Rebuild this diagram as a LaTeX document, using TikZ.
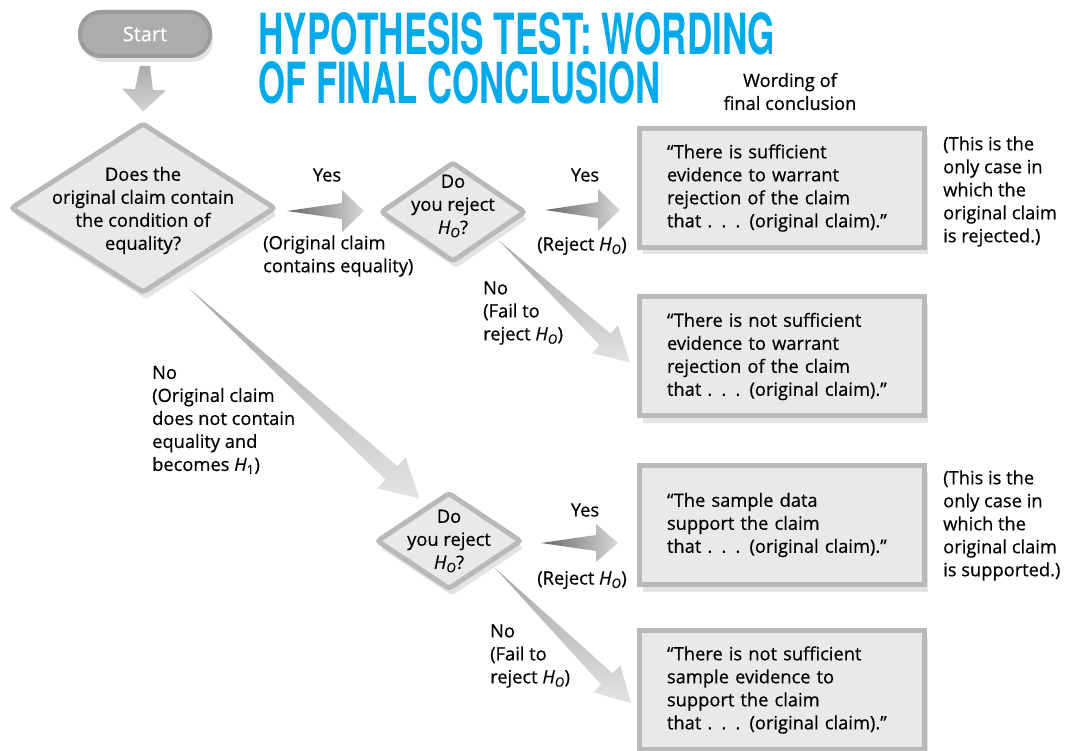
\documentclass[tikz,border=0pt]{standalone}
\usepackage{fontspec}
\usepackage{graphicx}
\setmainfont{Open Sans}[FakeBold=0.5,AutoFakeBold=0.5]
\newfontfamily\titlefont{TeX Gyre Heros}
\usetikzlibrary{shapes.geometric,shadows,calc}
\definecolor{titleblue}{RGB}{0,170,235}
\newcommand{\HO}{\textit{H}\textsubscript{\textit{O}}}
\newcommand{\HI}{\textit{H}\textsubscript{1}}
% #1 style, #2 from, #3 to, #4 tail half width, #5 shaft half width, #6 head half width, #7 head length
\newcommand{\myarrow}[7]{%
  \coordinate (bb) at ($(#3)!#7!(#2)$);
  \path[#1] ($(#2)!#4!90:(#3)$) -- ($(bb)!#5!90:(#3)$) -- ($(bb)!#6!90:(#3)$) -- (#3)
     -- ($(bb)!#6!-90:(#3)$) -- ($(bb)!#5!-90:(#3)$) -- ($(#2)!#4!-90:(#3)$) -- cycle;}
\begin{document}
\begin{tikzpicture}[x=1pt,y=-1pt,
  txt/.style={font=\fontsize{18.3}{23}\selectfont\bfseries, inner sep=0pt, align=left},
  ctxt/.style={txt, align=center},
  box/.style={rectangle, draw=gray!55, line width=5pt, fill=gray!17,
    minimum width=285pt, minimum height=119pt, text width=230pt, inner sep=0pt,
    font=\fontsize{18.3}{23}\selectfont\bfseries, align=left,
    drop shadow={shadow xshift=3pt, shadow yshift=-7pt, opacity=0.22, fill=gray}},
  diam/.style={diamond, draw=gray!55, line width=5pt, fill=gray!17, inner sep=0pt,
    rounded corners=3pt,
    drop shadow={shadow xshift=3pt, shadow yshift=-7pt, opacity=0.22, fill=gray}},
  startbox/.style={rectangle, rounded corners=21pt, draw=gray!78, line width=4pt,
    fill=gray!65, minimum width=130pt, minimum height=44pt, text=white,
    font=\fontsize{20}{23}\selectfont,
    drop shadow={shadow xshift=3pt, shadow yshift=-6pt, opacity=0.22, fill=gray}},
  harrow/.style={left color=gray!80!black, right color=gray!30},
  darrow/.style={top color=gray!70, bottom color=gray!22},
  varrow/.style={top color=gray!65, bottom color=gray!35}
]
\useasboundingbox (0,0) rectangle (1072,751);

% title
\node[anchor=north west, inner sep=0pt, text=titleblue, align=left,
      font=\fontsize{42}{49}\selectfont] (title) at (258,12)
  {\resizebox{517pt}{42pt}{\titlefont\bfseries HYPOTHESIS TEST: WORDING}\\
   \resizebox{402pt}{42pt}{\titlefont\bfseries OF FINAL CONCLUSION}};
\node[ctxt] (wording) at (790,91.5) {Wording of\\final conclusion};

% start and diamonds
\node[startbox] (start) at (145,34) {Start};
\node[diam, minimum width=265pt, minimum height=170pt] (d1) at (143,208) {};
\node[ctxt] (d1t) at (143,210.5) {Does the\\original claim contain\\the condition of\\equality?};
\node[diam, minimum width=145pt, minimum height=100pt] (d2) at (453,212) {};
\node[ctxt] (d2t) at (453,206) {Do\\you reject\\\HO?};
\node[diam, minimum width=145pt, minimum height=97pt] (d3) at (449,541) {};
\node[ctxt] (d3t) at (449,541) {Do\\you reject\\\HO?};

% conclusion boxes
\node[box] (b1) at (782,188) {“There is sufficient\\evidence to warrant\\rejection of the claim\\that . . . (original claim).”};
\node[box] (b2) at (782,356.5) {“There is not sufficient\\evidence to warrant\\rejection of the claim\\that . . . (original claim).”};
\node[box] (b3) at (782,525) {“The sample data\\support the claim\\that . . . (original claim).”};
\node[box] (b4) at (782,690) {“There is not sufficient\\sample evidence to\\support the claim\\that . . . (original claim).”};

% notes
\node[txt, anchor=west] (n1) at (943,191.5) {(This is the\\only case in\\which the\\original claim\\is rejected.)};
\node[txt, anchor=west] (n2) at (943,525.5) {(This is the\\only case in\\which the\\original claim\\is supported.)};

% arrows
\coordinate (s0) at ($(start.south)+(0,8)$);
\coordinate (e0) at ($(d1.north)+(0,-9)$);
\myarrow{varrow}{s0}{e0}{5pt}{9pt}{22pt}{22pt}

\coordinate (s1) at ($(d1.east)+(9,3)$);
\coordinate (e1) at ($(d2.west)+(-14,-1)$);
\myarrow{harrow}{s1}{e1}{0pt}{8pt}{21pt}{22pt}

\coordinate (s2) at ($(d2.east)+(17,-2)$);
\coordinate (e2) at ($(b1.west)+(-17,22)$);
\myarrow{harrow}{s2}{e2}{0pt}{8pt}{21pt}{22pt}

\coordinate (s3) at ($(d2.south east)+(8,2)$);
\coordinate (e3) at ($(b2.west)+(-7,6)$);
\myarrow{darrow}{s3}{e3}{0pt}{8pt}{19pt}{34pt}

\coordinate (s4) at ($(d1.south)+(45,-8)$);
\coordinate (e4) at ($(d3.north west)+(8,-17)$);
\myarrow{darrow}{s4}{e4}{0pt}{9pt}{21pt}{38pt}

\coordinate (s5) at ($(d3.east)+(17,2)$);
\coordinate (e5) at ($(b3.west)+(-19,18)$);
\myarrow{harrow}{s5}{e5}{0pt}{8pt}{19pt}{22pt}

\coordinate (s6) at ($(d3.south east)+(8,1)$);
\coordinate (e6) at ($(b4.west)+(-6,13)$);
\myarrow{darrow}{s6}{e6}{0pt}{8pt}{19pt}{34pt}

% labels
\node[ctxt] (y1) at (327,175) {Yes};
\node[txt, anchor=west] (l1) at (263,256) {(Original claim\\contains equality)};
\node[ctxt] (y2) at (585,175) {Yes};
\node[ctxt] (r1) at (582,246) {(Reject \HO)};
\node[txt, anchor=west] (no1) at (483,313) {No\\(Fail to\\reject \HO)};
\node[txt, anchor=west] (no0) at (152,420) {No\\(Original claim\\does not contain\\equality and\\becomes \HI)};
\node[ctxt] (y3) at (585,510) {Yes};
\node[ctxt] (r2) at (582,580) {(Reject \HO)};
\node[txt, anchor=west] (no2) at (490,656) {No\\(Fail to\\reject \HO)};
\end{tikzpicture}
\end{document}
